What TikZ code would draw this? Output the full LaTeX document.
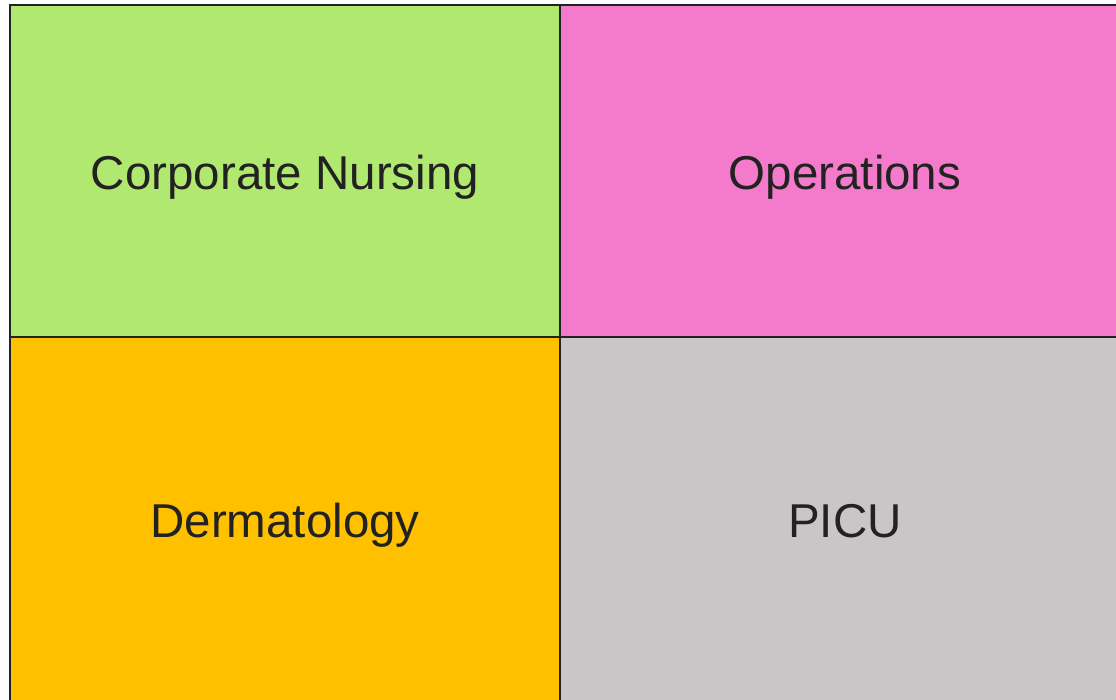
\documentclass[tikz,border=0pt]{standalone}
\usepackage{fontspec}
\setmainfont{Liberation Sans}
\definecolor{cgreen}{HTML}{B0E870}
\definecolor{cpink}{HTML}{F47BCB}
\definecolor{corange}{HTML}{FFC000}
\definecolor{cgray}{HTML}{CAC5C7}
\definecolor{cline}{HTML}{222222}
\begin{document}
\begin{tikzpicture}[x=1pt,y=-1pt,
  cell/.style={draw=cline,line width=2pt,inner sep=0pt,outer sep=0pt,anchor=north west},
  lbl/.style={font=\fontsize{47.5}{57}\selectfont,text=cline,anchor=base,inner sep=0pt}]
\useasboundingbox (0,0) rectangle (1116,700);
\clip (0,0) rectangle (1116,700);
\fill[white] (0,0) rectangle (1116,700);
\node[cell,fill=cgreen,minimum width=550pt,minimum height=332pt] (cn) at (10,5) {};
\node[cell,fill=cpink,minimum width=570pt,minimum height=332pt] (op) at (560,5) {};
\node[cell,fill=corange,minimum width=550pt,minimum height=380pt] (de) at (10,337) {};
\node[cell,fill=cgray,minimum width=570pt,minimum height=380pt] (pi) at (560,337) {};
\node[lbl] (cnt) at (285,189.5) {Corporate Nursing};
\node[lbl] (opt) at (845,189.5) {Operations};
\node[lbl] (det) at (285,537) {Dermatology};
\node[lbl] (pit) at (845,537) {PICU};
\end{tikzpicture}
\end{document}
